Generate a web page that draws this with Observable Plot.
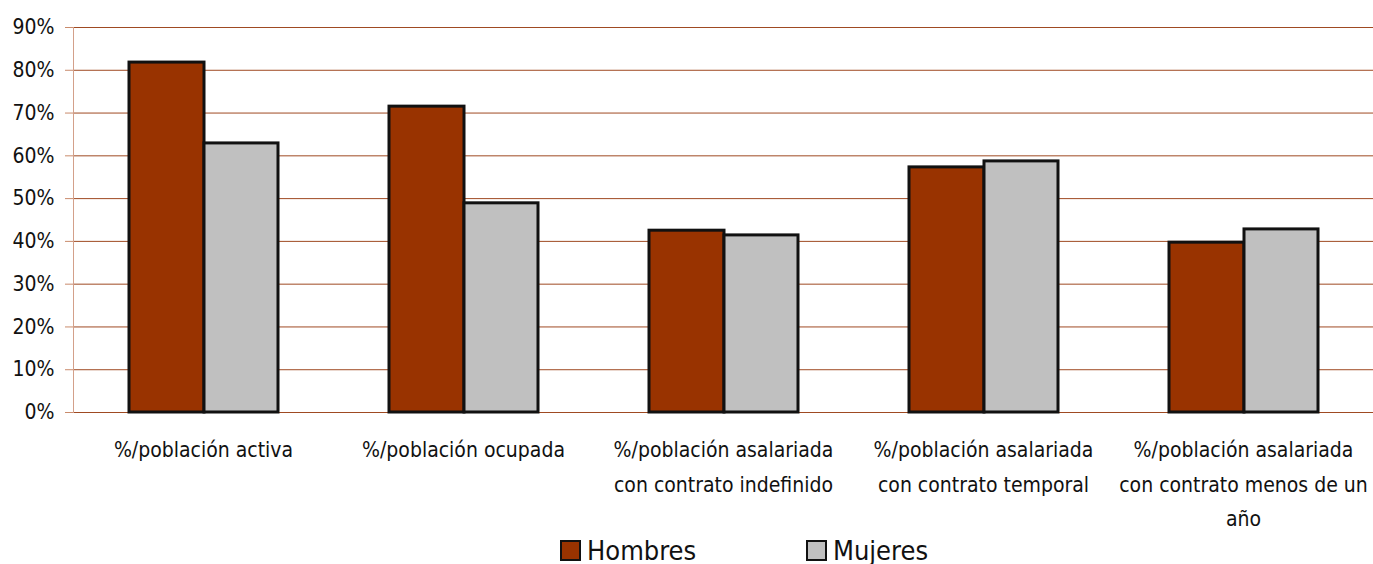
<!DOCTYPE html>
<html><head><meta charset="utf-8">
<script src="https://cdn.jsdelivr.net/npm/d3@7"></script>
<script src="https://cdn.jsdelivr.net/npm/@observablehq/plot@0.6"></script>
<style>
body{margin:0;background:#fff;font-family:"Liberation Sans Narrow","Arial Narrow","DejaVu Sans Condensed",sans-serif;}
#legend{display:flex;justify-content:flex-start;height:28px;align-items:center;color:#111;font-size:27px;}
.item{display:flex;align-items:center;position:absolute;}
.sw{width:17px;height:17px;border:2.5px solid #111;margin-right:6px;}
</style></head>
<body>
<div id="chart"></div>
<div id="legend" style="position:relative"></div>
<script>
const categories = [
  "%/población activa",
  "%/población ocupada",
  "%/población asalariada\ncon contrato indefinido",
  "%/población asalariada\ncon contrato temporal",
  "%/población asalariada\ncon contrato menos de un\naño"
];
const series = ["Hombres", "Mujeres"];
const hombres = [81.8, 71.5, 42.5, 57.3, 39.7];
const mujeres = [62.9, 48.9, 41.4, 58.7, 42.8];
const yTicks = [0, 10, 20, 30, 40, 50, 60, 70, 80, 90];
const colors = ["#993300", "#C0C0C0"];

const dataH = categories.map((c, i) => ({cat: c, sex: series[0], value: hombres[i]}));
const dataM = categories.map((c, i) => ({cat: c, sex: series[1], value: mujeres[i]}));

const chart = Plot.plot({
  width: 1373, height: 536,
  marginLeft: 73, marginRight: 0, marginTop: 27, marginBottom: 124,
  style: {fontFamily: '"Liberation Sans Narrow","Arial Narrow","DejaVu Sans Condensed",sans-serif', fontSize: "20px", color: "#111", background: "#fff", overflow: "visible"},
  x: {domain: categories, padding: 0, label: null},
  y: {domain: [0, 90], label: null},
  color: {domain: series, range: colors},
  marks: [
    Plot.gridY(yTicks, {stroke: "#9f4a22", strokeOpacity: 1, strokeWidth: 1}),
    Plot.frame({anchor: "left", stroke: "#d3a08a"}),
    Plot.axisY(yTicks, {tickFormat: d => d + "%", tickSize: 8, tickPadding: 11, stroke: "#c98b6c", fontSize: 21}),
    Plot.barY(dataH, {x: "cat", y: "value", fill: "sex", stroke: "#111", strokeWidth: 3, insetLeft: 56, insetRight: 129}),
    Plot.barY(dataM, {x: "cat", y: "value", fill: "sex", stroke: "#111", strokeWidth: 3, insetLeft: 131, insetRight: 55}),
    Plot.axisX({tickSize: 0, tickPadding: 20, fontSize: 21, lineHeight: 1.65, label: null})
  ]
});
document.getElementById("chart").appendChild(chart);

const legend = document.getElementById("legend");
const lx = [560, 806];
series.forEach((s, i) => {
  const it = document.createElement("div");
  it.className = "item";
  it.style.left = lx[i] + "px";
  it.innerHTML = `<div class="sw" style="background:${colors[i]}"></div><span>${s}</span>`;
  legend.appendChild(it);
});
</script>
</body></html>
